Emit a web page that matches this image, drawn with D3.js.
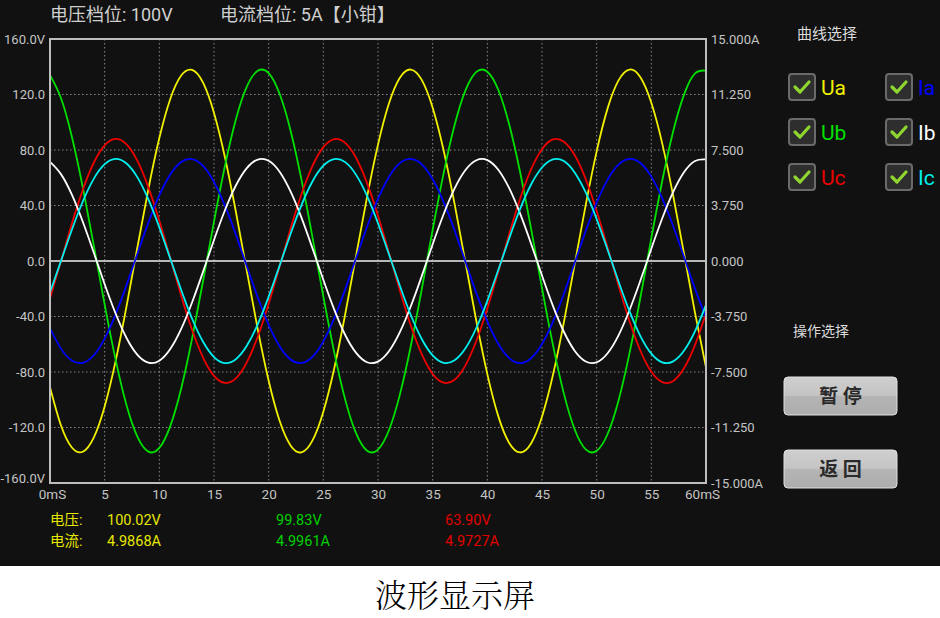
<!DOCTYPE html>
<html><head><meta charset="utf-8">
<script src="https://cdn.jsdelivr.net/npm/d3@7/dist/d3.min.js"></script>
<style>
html,body{margin:0;padding:0;background:#fff;}
svg{display:block;}
</style></head>
<body>
<svg id="c" width="940" height="618"></svg>
<script>
// ---- data, time in ms at 1 ms steps ----
const timeMs = d3.range(0, 61); // 0..60 ms
const Ua = [-90.9,-118.4,-134.4,-137.5,-127.3,-104.8,-72.2,-32.6,10.1,51.9,88.6,116.8,133.7,137.7,128.5,106.7,74.8,35.5,-7.1,-49.1,-86.3,-115.2,-132.9,-137.9,-129.5,-108.6,-77.3,-38.4,4.1,46.2,83.9,113.5,132.1,138.0,130.5,110.5,79.8,41.3,-1.1,-43.4,-81.5,-111.8,-131.2,-138.0,-131.5,-112.2,-82.2,-44.2,-1.9,40.5,79.0,110.0,130.2,138.0,132.4,114.0,84.6,47.0,4.9,-37.6,-76.6];
const Ub = [134.0,117.5,89.6,53.1,11.4,-31.4,-71.1,-104.0,-126.8,-137.4,-134.7,-119.0,-91.9,-55.8,-14.4,28.4,68.5,102.0,125.6,137.1,135.4,120.5,94.1,58.6,17.4,-25.5,-65.9,-99.9,-124.3,-136.7,-135.9,-122.0,-96.3,-61.3,-20.4,22.5,63.2,97.8,123.0,136.3,136.4,123.4,98.4,64.0,23.3,-19.5,-60.5,-95.6,-121.6,-135.8,-136.8,-124.7,-100.5,-66.6,-26.3,16.5,57.8,93.5,120.1,135.2,137.2];
const Uc = [-27.1,-0.1,26.9,51.3,70.8,83.4,88.0,84.1,72.1,53.1,29.0,2.1,-25.0,-49.7,-69.6,-82.8,-87.9,-84.6,-73.1,-54.6,-30.8,-4.0,23.2,48.1,68.4,82.1,87.9,85.1,74.2,56.1,32.6,5.9,-21.3,-46.5,-67.2,-81.4,-87.7,-85.6,-75.2,-57.5,-34.3,-7.8,19.5,44.9,66.0,80.6,87.6,86.0,76.2,59.0,36.1,9.7,-17.6,-43.2,-64.7,-79.9,-87.3,-86.4,-77.1,-60.4,-37.8];
const Ia = [-4.55,-5.92,-6.72,-6.88,-6.37,-5.24,-3.61,-1.63,0.51,2.59,4.43,5.84,6.69,6.89,6.42,5.34,3.74,1.78,-0.36,-2.45,-4.31,-5.76,-6.65,-6.89,-6.48,-5.43,-3.86,-1.92,0.20,2.31,4.20,5.68,6.61,6.90,6.53,5.52,3.99,2.07,-0.05,-2.17,-4.08,-5.59,-6.56,-6.90,-6.57,-5.61,-4.11,-2.21,-0.10,2.03,3.95,5.50,6.51,6.90,6.62,5.70,4.23,2.35,0.25,-1.88,-3.83];
const Ib = [6.70,5.87,4.48,2.65,0.57,-1.57,-3.55,-5.20,-6.34,-6.87,-6.74,-5.95,-4.59,-2.79,-0.72,1.42,3.43,5.10,6.28,6.85,6.77,6.03,4.70,2.93,0.87,-1.27,-3.29,-5.00,-6.21,-6.84,-6.80,-6.10,-4.81,-3.06,-1.02,1.13,3.16,4.89,6.15,6.81,6.82,6.17,4.92,3.20,1.17,-0.98,-3.03,-4.78,-6.08,-6.79,-6.84,-6.23,-5.02,-3.33,-1.32,0.83,2.89,4.67,6.01,6.76,6.86];
const Ic = [-2.13,-0.01,2.11,4.02,5.55,6.54,6.90,6.59,5.65,4.16,2.27,0.16,-1.96,-3.90,-5.46,-6.49,-6.90,-6.64,-5.73,-4.28,-2.41,-0.31,1.82,3.77,5.37,6.44,6.89,6.68,5.82,4.40,2.55,0.46,-1.67,-3.65,-5.27,-6.38,-6.88,-6.71,-5.90,-4.51,-2.69,-0.61,1.53,3.52,5.17,6.32,6.87,6.75,5.97,4.63,2.83,0.76,-1.38,-3.39,-5.07,-6.26,-6.85,-6.78,-6.05,-4.74,-2.97];

const voltTicks = [-160,-120,-80,-40,0,40,80,120,160];
const voltTickLabels = ["-160.0V","-120.0","-80.0","-40.0","0.0","40.0","80.0","120.0","160.0V"];
const ampTicks = [-15,-11.25,-7.5,-3.75,0,3.75,7.5,11.25,15];
const ampTickLabels = ["-15.000A","-11.250","-7.500","-3.750","0.000","3.750","7.500","11.250","15.000A"];
const timeTicks = [0,5,10,15,20,25,30,35,40,45,50,55,60];
const timeTickLabels = ["0mS","5","10","15","20","25","30","35","40","45","50","55","60mS"];

const seriesNames = ["Ua","Ub","Uc","Ia","Ib","Ic"];
const seriesColors = {Ua:"#f0f000",Ub:"#00e000",Uc:"#ee0000",Ia:"#0000ff",Ib:"#ffffff",Ic:"#00f0f0"};
const legendRows = [["Ua","Ia"],["Ub","Ib"],["Uc","Ic"]];

const readoutLabels = ["电压:","电流:"];
const readoutVolts = ["100.02V","99.83V","63.90V"];
const readoutAmps = ["4.9868A","4.9961A","4.9727A"];
const readoutColors = ["#e6e600","#00d000","#e00000"];

// ---- drawing ----
const svg = d3.select("#c");
const FONT = "Roboto, 'Noto Sans CJK SC', sans-serif";
svg.append("rect").attr("x",0).attr("y",0).attr("width",940).attr("height",566).attr("fill","#111111");

const L=50, R=706, T=39, B=483;
const x = d3.scaleLinear().domain([0,60]).range([L,R]);
const yV = d3.scaleLinear().domain([-160,160]).range([B,T]);
const yA = d3.scaleLinear().domain([-15,15]).range([B,T]);

// header
svg.append("text").attr("x",50).attr("y",21).attr("fill","#cfcfcf").attr("font-size",18).attr("font-family",FONT).text("电压档位: 100V");
svg.append("text").attr("x",220).attr("y",21).attr("fill","#cfcfcf").attr("font-size",18).attr("font-family",FONT).text("电流档位: 5A【小钳】");

// grid
const grid = svg.append("g");
grid.selectAll("line.v").data(timeTicks.filter(t=>t>0&&t<60)).join("line")
  .attr("x1",d=>x(d)).attr("x2",d=>x(d)).attr("y1",T).attr("y2",B)
  .attr("stroke","#8a8a8a").attr("stroke-width",1).attr("stroke-dasharray","1.5,2.5");
grid.selectAll("line.h").data(voltTicks.filter(v=>Math.abs(v)<160&&v!==0)).join("line")
  .attr("x1",L).attr("x2",R).attr("y1",d=>yV(d)).attr("y2",d=>yV(d))
  .attr("stroke","#8a8a8a").attr("stroke-width",1).attr("stroke-dasharray","1.5,2.5");

// zero line
svg.append("line").attr("x1",L).attr("x2",R).attr("y1",yV(0)).attr("y2",yV(0)).attr("stroke","#b8b8b8").attr("stroke-width",2);

// curves
const lineV = d3.line().x((d,i)=>x(timeMs[i])).y(d=>yV(d)).curve(d3.curveNatural);
const lineA = d3.line().x((d,i)=>x(timeMs[i])).y(d=>yA(d)).curve(d3.curveNatural);
const dataMap = {Ua,Ub,Uc,Ia,Ib,Ic};
svg.append("clipPath").attr("id","pc").append("rect").attr("x",L).attr("y",T).attr("width",R-L).attr("height",B-T);
const cg = svg.append("g").attr("clip-path","url(#pc)");
seriesNames.forEach(n=>{
  const isV = n[0]==="U";
  cg.append("path").attr("d",(isV?lineV:lineA)(dataMap[n]))
    .attr("fill","none").attr("stroke",seriesColors[n]).attr("stroke-width",1.8);
});

// frame
svg.append("rect").attr("x",L).attr("y",T).attr("width",R-L).attr("height",B-T)
  .attr("fill","none").attr("stroke","#bdbdbd").attr("stroke-width",2);

// axes
const axL = svg.append("g").attr("transform",`translate(${L-5},0)`)
  .call(d3.axisLeft(yV).tickValues(voltTicks).tickSize(0).tickPadding(0).tickFormat((d,i)=>voltTickLabels[i]));
const axR = svg.append("g").attr("transform",`translate(${R+5},0)`)
  .call(d3.axisRight(yA).tickValues(ampTicks).tickSize(0).tickPadding(0).tickFormat((d,i)=>ampTickLabels[i]));
const axB = svg.append("g").attr("transform",`translate(0,${B+3})`)
  .call(d3.axisBottom(x).tickValues(timeTicks).tickSize(0).tickPadding(0).tickFormat((d,i)=>timeTickLabels[i]));
[axL,axR,axB].forEach(a=>{
  a.select(".domain").remove();
  a.selectAll("text").attr("fill","#c4c4c4").attr("font-size",13).attr("font-family",FONT);
});
axL.selectAll("text").filter((d,i)=>i===0).attr("dy","-0.05em");
axB.selectAll("text").attr("font-size",13.5).attr("dy","0.95em");
axB.selectAll("text").filter((d,i)=>i===0).attr("dx","2");
axB.selectAll("text").filter((d,i)=>i===timeTicks.length-1).attr("dx","-4");

// readouts
const ro = svg.append("g").attr("font-family",FONT).attr("font-size",14.5);
readoutLabels.forEach((lab,r)=>{
  ro.append("text").attr("x",50).attr("y",525+r*21).attr("fill","#e6e600").text(lab);
});
const colX = [107,276,445];
readoutVolts.forEach((v,i)=>{
  ro.append("text").attr("x",colX[i]).attr("y",525).attr("fill",readoutColors[i]).text(v);
  ro.append("text").attr("x",colX[i]).attr("y",546).attr("fill",readoutColors[i]).text(readoutAmps[i]);
});

// right panel
svg.append("text").attr("x",797).attr("y",39).attr("fill","#dcdcdc").attr("font-size",15).attr("font-family",FONT).text("曲线选择");
const colBoxX = [788,885];
legendRows.forEach((row,r)=>{
  row.forEach((n,c)=>{
    const bx = colBoxX[c], by = 73 + r*45;
    const g = svg.append("g");
    g.append("rect").attr("x",bx+1).attr("y",by+1).attr("width",26).attr("height",26).attr("rx",3)
      .attr("fill","#2e2e2e").attr("stroke","#6a6a6a").attr("stroke-width",2);
    g.append("path").attr("d",`M${bx+7},${by+14} L${bx+12},${by+19} L${bx+21},${by+9}`)
      .attr("fill","none").attr("stroke","#8fd631").attr("stroke-width",3.2).attr("stroke-linecap","round").attr("stroke-linejoin","round");
    g.append("text").attr("x",bx+33).attr("y",by+22).attr("fill",seriesColors[n]).attr("font-size",21).attr("font-family",FONT).text(n);
  });
});

svg.append("text").attr("x",793).attr("y",336).attr("fill","#dcdcdc").attr("font-size",14).attr("font-family",FONT).text("操作选择");

const grad = svg.append("defs").append("linearGradient").attr("id","bg").attr("x1",0).attr("x2",0).attr("y1",0).attr("y2",1);
grad.append("stop").attr("offset","0%").attr("stop-color","#cfcfcf");
grad.append("stop").attr("offset","48%").attr("stop-color","#c4c4c4");
grad.append("stop").attr("offset","52%").attr("stop-color","#b4b4b4");
grad.append("stop").attr("offset","100%").attr("stop-color","#adadad");
const buttons = [{label:"暂 停", y:377},{label:"返 回", y:450}];
buttons.forEach(b=>{
  svg.append("rect").attr("x",784).attr("y",b.y).attr("width",113).attr("height",38).attr("rx",4)
    .attr("fill","url(#bg)").attr("stroke","#e0e0e0").attr("stroke-width",1);
  svg.append("text").attr("x",840.5).attr("y",b.y+26).attr("text-anchor","middle").attr("fill","#2a2a2a")
    .attr("font-size",19).attr("font-weight","bold").attr("font-family","'Noto Sans CJK SC', sans-serif").text(b.label);
});

// caption
svg.append("text").attr("x",455).attr("y",607).attr("text-anchor","middle").attr("fill","#000")
  .attr("font-size",32).attr("font-weight",300).attr("font-family","'Noto Serif CJK SC','Noto Sans CJK SC', serif").text("波形显示屏");
</script>
</body></html>
